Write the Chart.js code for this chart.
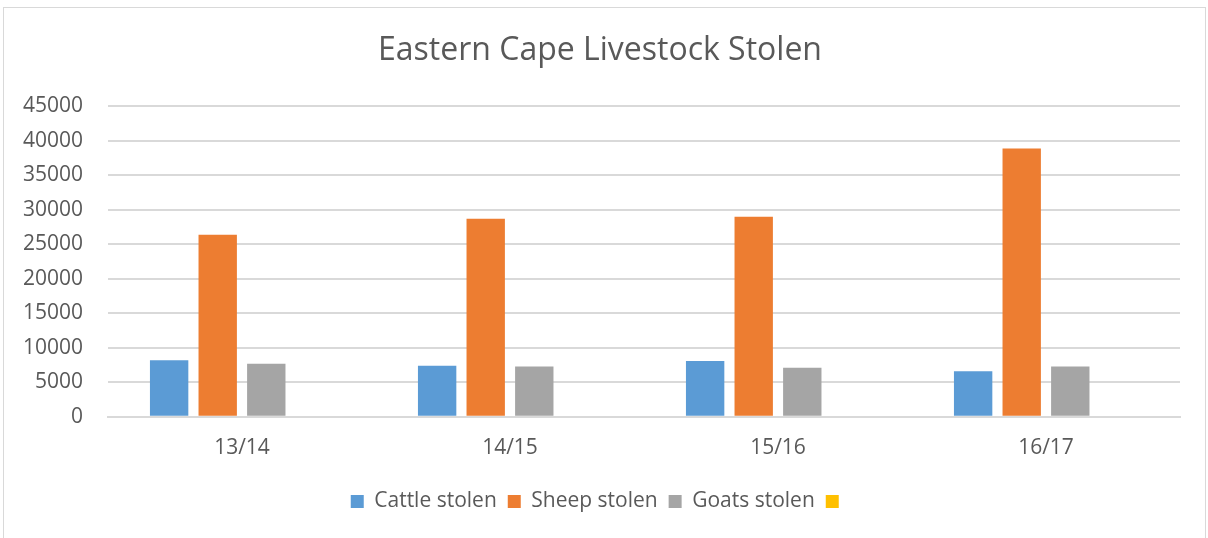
<!DOCTYPE html>
<html lang="en">
<head>
    <meta charset="UTF-8">
    <title>Eastern Cape Livestock Stolen</title>
    <script src="https://cdn.jsdelivr.net/npm/chart.js"></script>
    <style>
        body { margin: 0; background: #fff; }
        .wrap { position: relative; width: 1208px; height: 538px; }
        .frame {
            position: absolute; left: 3px; top: 7px; right: 2px; bottom: -2px;
            border: 1px solid #d9d9d9; pointer-events: none;
        }
    </style>
</head>
<body>
    <div class="wrap">
        <canvas id="livestockChart" width="1208" height="538"></canvas>
        <div class="frame"></div>
    </div>

    <script>
        const years = ['13/14', '14/15', '15/16', '16/17'];
        const cattleStolen = [8200, 7400, 8100, 6600];
        const sheepStolen = [26400, 28700, 29000, 38900];
        const goatsStolen = [7700, 7300, 7100, 7300];
        const emptySeries = [null, null, null, null];
        const yTicks = [0, 5000, 10000, 15000, 20000, 25000, 30000, 35000, 40000, 45000];

        const textColor = '#595959';
        const fontFamily = '"Open Sans", "Noto Sans", sans-serif';

        new Chart(document.getElementById('livestockChart').getContext('2d'), {
            type: 'bar',
            data: {
                labels: years,
                datasets: [
                    { label: 'Cattle stolen', data: cattleStolen, backgroundColor: '#5B9BD5' },
                    { label: 'Sheep stolen', data: sheepStolen, backgroundColor: '#ED7D31' },
                    { label: 'Goats stolen', data: goatsStolen, backgroundColor: '#A5A5A5' },
                    { label: '', data: emptySeries, backgroundColor: '#FFC000' }
                ]
            },
            options: {
                responsive: false,
                animation: false,
                categoryPercentage: 0.725,
                barPercentage: 0.79,
                layout: { padding: { left: 20, right: 28, top: 0, bottom: 16 } },
                plugins: {
                    title: {
                        display: true,
                        text: 'Eastern Cape Livestock Stolen',
                        color: textColor,
                        font: { family: fontFamily, size: 32, weight: 'normal' },
                        padding: { top: 32, bottom: 36 }
                    },
                    legend: {
                        position: 'bottom',
                        labels: {
                            color: textColor,
                            font: { family: fontFamily, size: 21 },
                            boxWidth: 13,
                            boxHeight: 13,
                            padding: 11
                        }
                    },
                    tooltip: { enabled: false }
                },
                scales: {
                    x: {
                        afterFit: axis => { axis.height += 8; },
                        grid: { display: false },
                        border: { color: '#d9d9d9', width: 2 },
                        ticks: {
                            color: textColor,
                            font: { family: fontFamily, size: 21 },
                            padding: 11
                        }
                    },
                    y: {
                        min: 0,
                        max: 45000,
                        afterBuildTicks: axis => { axis.ticks = yTicks.map(v => ({ value: v })); },
                        afterFit: axis => { axis.width = 88; },
                        grid: { color: '#d9d9d9', lineWidth: 2, drawTicks: false },
                        border: { display: false },
                        ticks: {
                            color: textColor,
                            font: { family: fontFamily, size: 21 },
                            padding: 25,
                            callback: v => String(v)
                        }
                    }
                }
            }
        });
    </script>
</body>
</html>
